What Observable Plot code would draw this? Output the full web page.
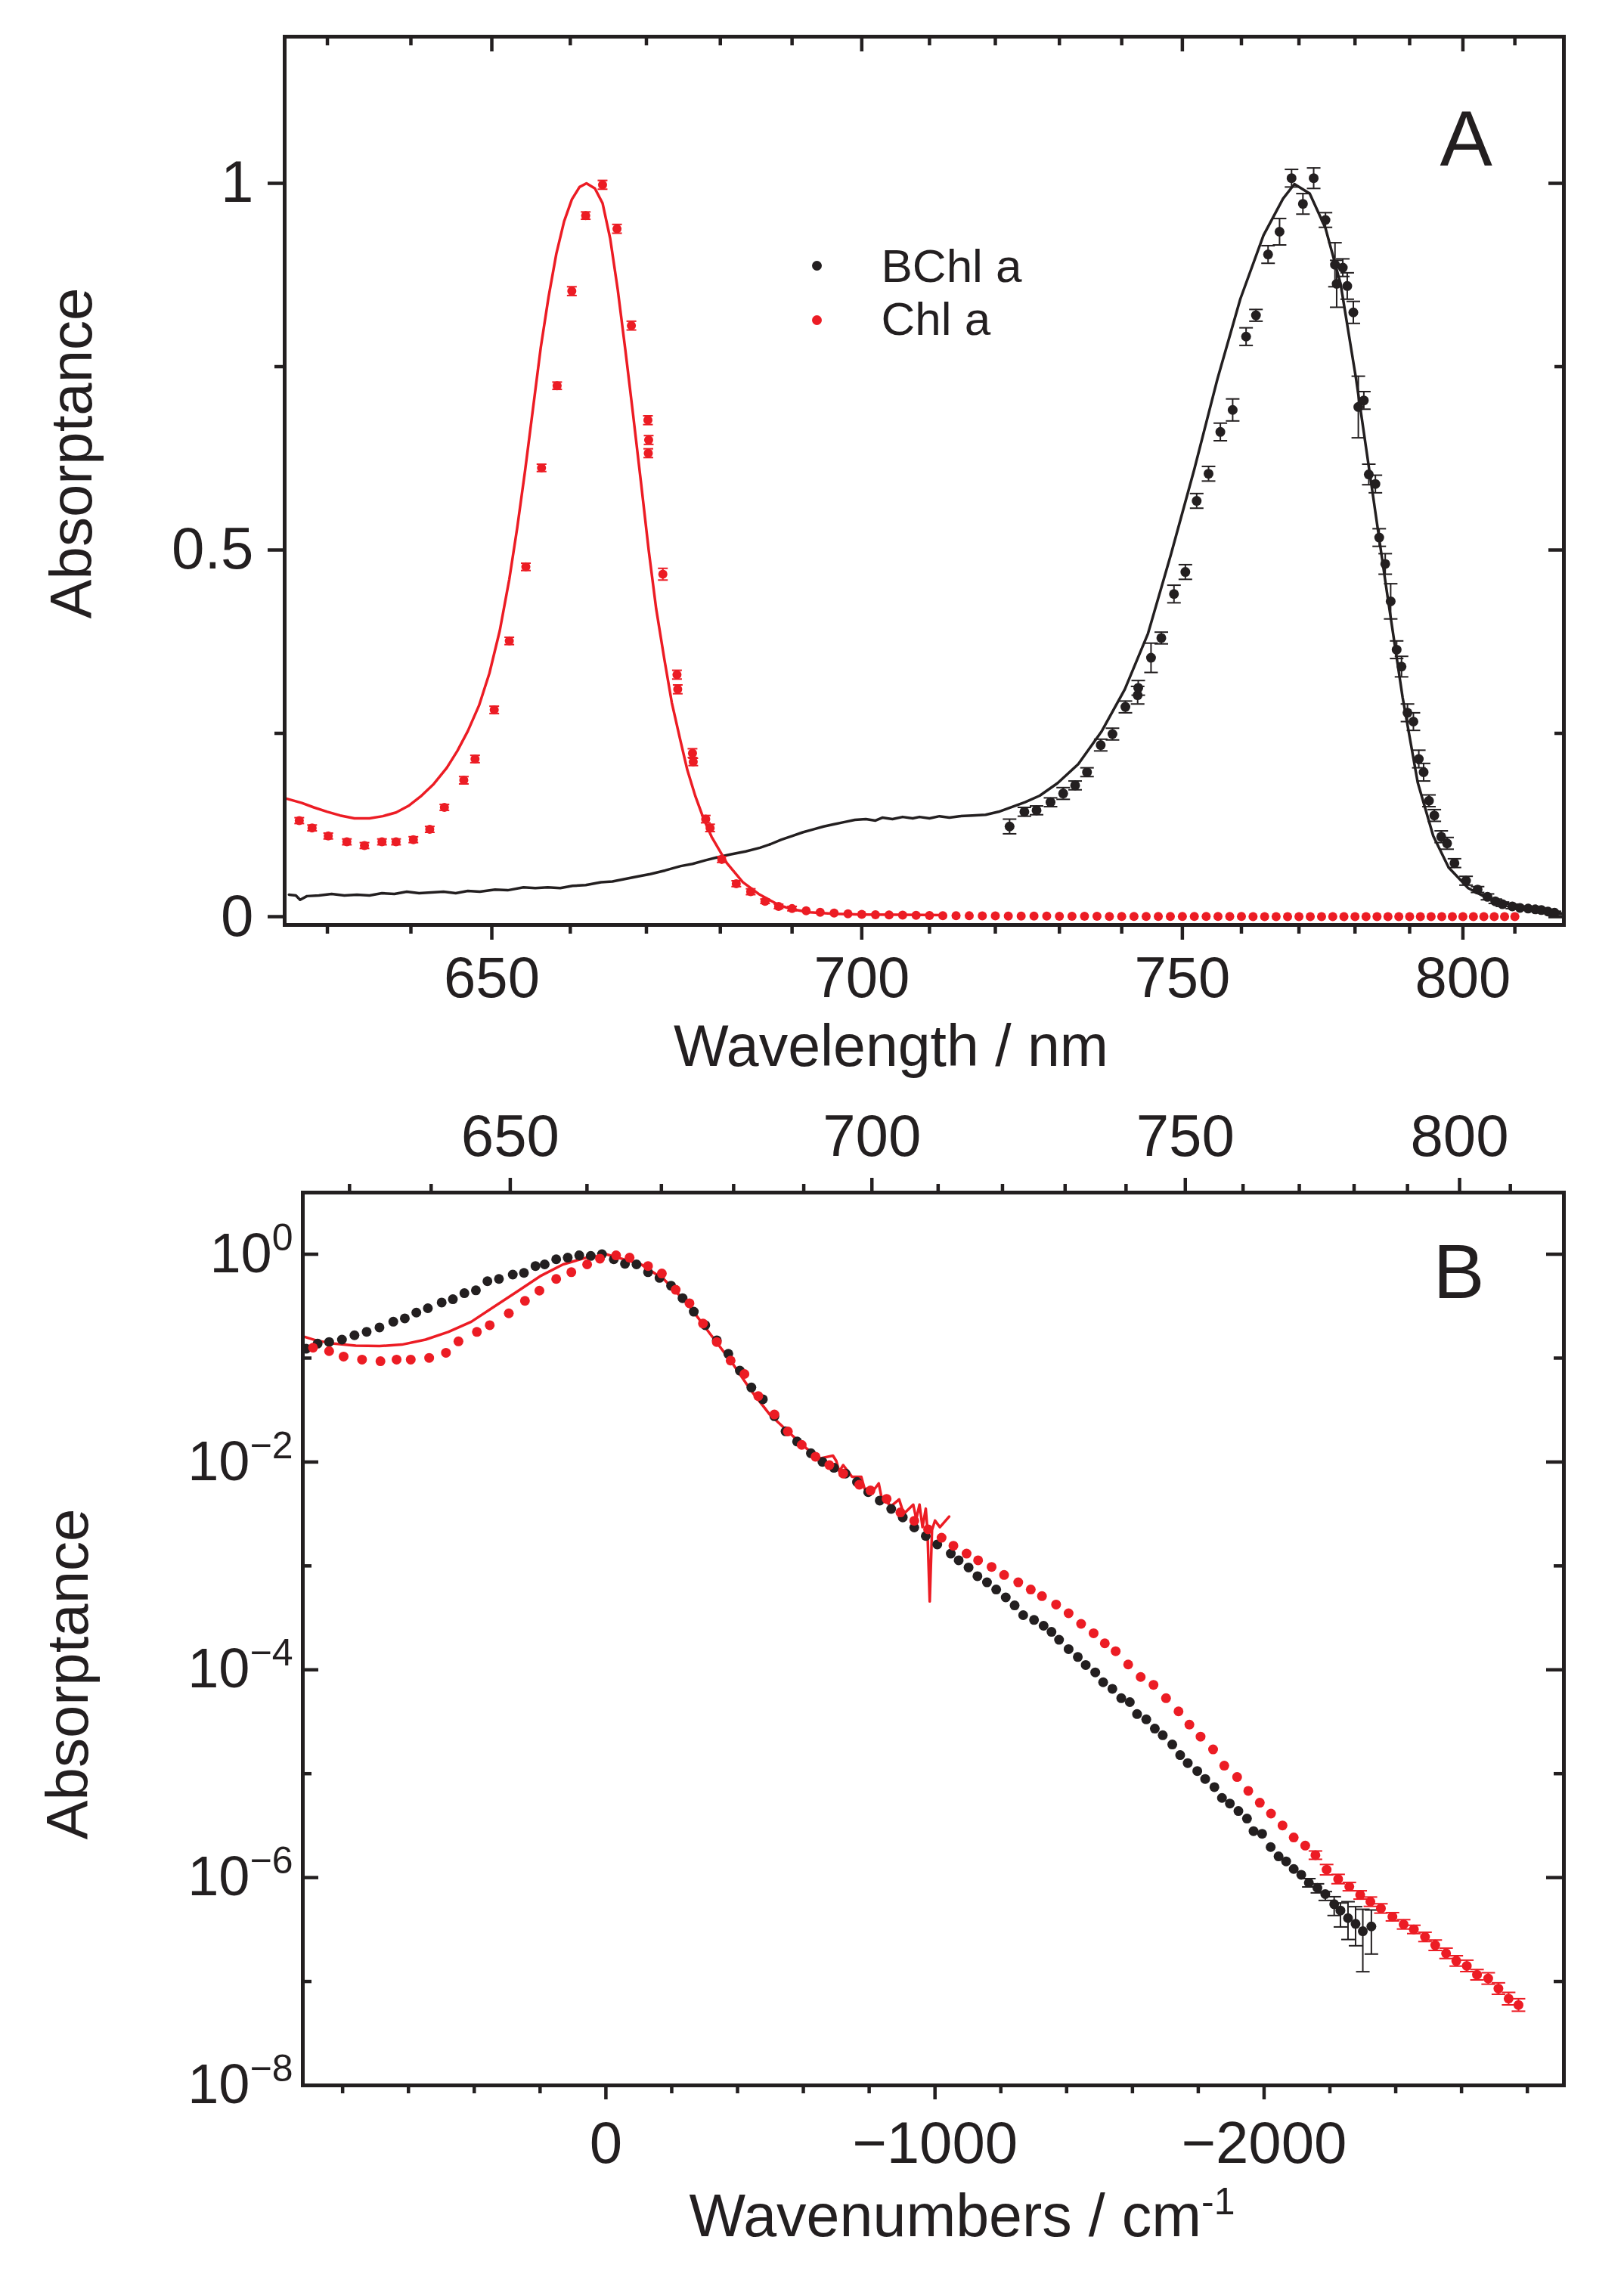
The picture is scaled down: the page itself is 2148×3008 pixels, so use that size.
<!DOCTYPE html>
<html>
<head>
<meta charset="utf-8">
<script src="https://cdn.jsdelivr.net/npm/d3@7"></script>
<script src="https://cdn.jsdelivr.net/npm/@observablehq/plot@0.6"></script>
<style>
  html, body { margin: 0; padding: 0; background: #fff; }
  #chart { width: 2148px; }
  #chart svg { display: block; }
</style>
</head>
<body>
<div id="chart"></div>
<script>
const FONT = "'Liberation Sans', Arial, Helvetica, sans-serif";
const RED = "#ec1c24";
const BLK = "#231f20";

// ---------------- Panel A data: [wavelength nm, absorptance (, error)] ----------------
const chlLineA = [
  [625.2,0.161],[627,0.155],[628.4,0.149],[630,0.143],[631.5,0.138],[633.2,0.134],[635,0.134],
  [636.6,0.137],[638.2,0.142],[639.7,0.151],[641.2,0.164],[642.8,0.181],[644.4,0.203],[645.7,0.226],
  [647,0.253],[648.4,0.288],[649.7,0.332],[651,0.39],[652.2,0.46],[653.2,0.53],[654.2,0.608],
  [655.2,0.692],[656.2,0.776],[657.2,0.845],[658.2,0.904],[659.2,0.948],[660.2,0.978],[661.2,0.995],
  [662.1,1.0],[663.2,0.993],[664.2,0.973],[665.2,0.925],[666.2,0.855],[667.2,0.773],[668.2,0.687],
  [669.3,0.59],[670.3,0.50],[671.3,0.42],[672.4,0.351],[673.4,0.292],[674.5,0.243],[675.5,0.2],
  [676.6,0.164],[677.7,0.134],[678.8,0.109],[680.9,0.073],[683.1,0.047],[685.3,0.031],[688.1,0.016],
  [690,0.010],[692.5,0.006],[696,0.004],[700,0.003],[706,0.0025],[712,0.002]
];
const bchlLineA = [
  [625.5,0.030],[626.3,0.029],[626.8,0.023],[627.6,0.028],[629,0.029],[630.5,0.031],[632,0.029],
  [633.5,0.030],[635,0.029],[636.5,0.032],[638,0.031],[639.5,0.034],[641,0.032],[642.5,0.033],
  [644,0.034],[645.5,0.032],[647,0.035],[648.5,0.034],[650.4,0.037],[652,0.036],[654,0.040],
  [655.5,0.039],[657.1,0.040],[658.7,0.039],[660.3,0.042],[662,0.043],[664,0.047],[665.5,0.048],
  [667,0.051],[668.9,0.055],[670.5,0.058],[672.5,0.063],[674.6,0.069],[676.2,0.072],[678,0.077],
  [679.6,0.081],[681.5,0.085],[683.5,0.089],[685.5,0.094],[687,0.099],[688.5,0.105],[690,0.110],
  [691.5,0.115],[693,0.119],[694.5,0.123],[696,0.126],[697.5,0.129],[699,0.132],[700.6,0.133],
  [702,0.131],[703,0.135],[704.5,0.133],[706,0.136],[707.5,0.134],[708.5,0.136],[710,0.134],
  [711.5,0.137],[713,0.135],[714.5,0.137],[716.5,0.138],[718.5,0.139],[720.5,0.143],[722.1,0.148],
  [724.6,0.156],[726.9,0.165],[729.7,0.182],[733.0,0.208],[736.7,0.252],[740.5,0.31],[744.3,0.386],
  [748.1,0.494],[752.0,0.61],[755.9,0.733],[759.8,0.842],[763.8,0.929],[767.2,0.979],[769.2,0.999],
  [771.9,0.986],[774.7,0.939],[777.4,0.863],[780.2,0.733],[783.0,0.588],[785.8,0.443],[788.7,0.299],
  [791.5,0.183],[794.4,0.110],[797.3,0.067],[801.0,0.039],[804.7,0.025],[807.5,0.019],[810.7,0.015],
  [813.5,0.011],[816.0,0.009],[818,0.006],[819.6,0.004]
];
const chlDotsA = [
  [626.7,0.131,0.004],[628.2,0.121,0.004],[630.1,0.110,0.004],[632.3,0.102,0.004],[634.4,0.097,0.004],
  [636.5,0.102,0.004],[638.2,0.102,0.004],[640.3,0.105,0.004],[642.3,0.119,0.004],[644.1,0.149,0.004],
  [646.5,0.186,0.005],[647.9,0.215,0.005],[650.3,0.282,0.005],[652.2,0.376,0.005],[654.3,0.477,0.005],
  [656.3,0.612,0.005],[658.3,0.724,0.005],[660.2,0.853,0.006],[662.0,0.956,0.005],[664.2,0.998,0.006],
  [666.1,0.938,0.006],[668.0,0.806,0.006],[670.2,0.677,0.006],[670.3,0.650,0.006],[670.25,0.632,0.006],
  [672.2,0.467,0.008],[674.1,0.330,0.006],[674.2,0.310,0.006],[676.2,0.223,0.006],[676.3,0.211,0.005],
  [678.0,0.133,0.005],[678.6,0.121,0.005],[680.2,0.078,0.004],[682.2,0.045,0.004],[684.2,0.034,0.004],
  [686.2,0.021,0.003],[688.1,0.014,0.003],[690.0,0.011,0.003],
  [692,0.008],[694,0.006],[696,0.005],[698,0.004],[700,0.0032],[702,0.0027],[704,0.0023],[706,0.0020],
  [708,0.0018],[710,0.0016],[712,0.0014],[714,0.0013],[716,0.0012],[718,0.0011],[720,0.0010],
  [722,0.0009],[724,0.0008],[726,0.0008],[728,0.0007],[730,0.0006],[732,0.0006],[734,0.0005],
  [736,0.0005],[738,0.0004],[740,0.0004],[742,0.0004],[744,0.0003],[746,0.0003],[748,0.0003],
  [750,0.0003],[752,0.0002],[754,0.0002],[756,0.0002],[758,0.0002],[760,0.0002],[762,0.0001],
  [764,0.0001],[766,0.0001],[768,0.0001],[770,0.0001],[772,0.0001],[774,0.0001],[776,0.0001],
  [778,0.0001],[780,0.0001],[782,0.0001],[784,0.0001],[786,0.0001],[788,0.0001],[790,0.0001],
  [792,0.0001],[794,0.0001],[796,0.0001],[798,0.0001],[800,0.0001],[802,0.0001],[804,0.0001],
  [806,0.0001],[808,0.0001],[810,0.0001]
];
const bchlDotsA = [
  [722.2,0.123,0.010],[724.5,0.143,0.006],[726.4,0.145,0.006],[728.6,0.156,0.006],[730.6,0.168,0.008],
  [732.5,0.179,0.006],[734.4,0.197,0.006],[736.6,0.234,0.008],[738.5,0.249,0.008],[740.6,0.286,0.008],
  [742.6,0.302,0.012],[742.7,0.312,0.010],[744.8,0.353,0.020],[746.5,0.380,0.008],[748.6,0.440,0.012],
  [750.5,0.470,0.010],[752.4,0.567,0.010],[754.4,0.604,0.010],[756.4,0.661,0.012],[758.5,0.691,0.015],
  [760.8,0.791,0.012],[762.5,0.820,0.008],[764.6,0.903,0.012],[766.6,0.934,0.018],[768.7,1.007,0.012],
  [770.7,0.972,0.014],[772.6,1.007,0.014],[774.7,0.950,0.010],[776.4,0.889,0.030],[776.7,0.863,0.032],
  [777.8,0.885,0.012],[778.6,0.860,0.018],[779.7,0.824,0.015],[780.6,0.695,0.042],[781.6,0.704,0.012],
  [782.5,0.603,0.014],[783.7,0.590,0.012],[784.4,0.517,0.012],[785.5,0.481,0.014],[786.5,0.430,0.024],
  [787.6,0.364,0.012],[788.5,0.341,0.014],[789.6,0.278,0.012],[790.7,0.266,0.012],[791.7,0.215,0.012],
  [792.6,0.197,0.012],[793.6,0.158,0.008],[794.6,0.138,0.008],[795.9,0.109,0.008],[797.0,0.100,0.008],
  [798.4,0.073,0.006],[800.6,0.049,0.006],[802.8,0.037,0.004],[804.7,0.027,0.004],[806.2,0.021,0.003],
  [807.6,0.017,0.003],[809.5,0.014,0.003],[811.0,0.012,0.002],[812.6,0.011,0.002],[814.0,0.010,0.002],
  [815.2,0.009,0.002],[816.5,0.007,0.002],[817.8,0.0054,0.002]
];

// ---------------- Panel B data: [relative wavenumber cm^-1, log10 absorptance (, error)] ----------------
const CHL_PEAK_CM = 15094; // wavenumber of the Chl a maximum (used for the top wavelength axis)
const chlLineB = [
  [921,-0.79],[880,-0.83],[827,-0.861],[760,-0.88],[688,-0.884],[620,-0.87],[548,-0.822],[479,-0.748],
  [409,-0.650],[339,-0.504],[269,-0.358],[200,-0.212],[130,-0.098],[60,-0.033],[18,-0.017],[0,0],
  [-37,-0.033],[-107,-0.098],[-177,-0.244],[-247,-0.472],[-316,-0.764],[-386,-1.056],[-442,-1.316],
  [-498,-1.543],[-553,-1.706],[-609,-1.868],[-651,-1.965],[-690,-1.939],[-700,-1.99],[-709,-2.092],
  [-721,-2.03],[-748,-2.143],[-776,-2.143],[-786,-2.257],[-814,-2.27],[-829,-2.206],[-838,-2.347],
  [-867,-2.423],[-891,-2.36],[-905,-2.5],[-934,-2.41],[-943,-2.55],[-953,-2.41],[-962,-2.627],
  [-972,-2.449],[-977,-2.653],[-984,-3.342],[-991,-2.653],[-1000,-2.564],[-1015,-2.627],[-1029,-2.576],
  [-1043,-2.525]
];
const chlDotsB = [
  [890,-0.900],[841,-0.933],[797,-0.985],[741,-1.014],[685,-1.030],[636,-1.014],[593,-1.014],[537,-0.998],
  [486,-0.949],[448,-0.839],[392,-0.748],[353,-0.683],[295,-0.569],[246,-0.449],[202,-0.351],[151,-0.238],
  [105,-0.173],[57,-0.098],[18,-0.043],[-31,-0.011],[-72,-0.033],[-128,-0.114],[-170,-0.186],[-212,-0.342],
  [-254,-0.472],[-295,-0.667],[-337,-0.845],[-379,-1.024],[-421,-1.153],[-463,-1.365],[-512,-1.543],
  [-553,-1.706],[-595,-1.835],[-637,-1.949],[-679,-2.030],[-721,-2.111],[-770,-2.219],[-804,-2.274],
  [-853,-2.355],[-895,-2.485],[-937,-2.566],[-979,-2.648],[-1020,-2.729],[-1056,-2.806],[-1096,-2.882],
  [-1131,-2.946],[-1172,-3.010],[-1210,-3.087],[-1253,-3.158],[-1291,-3.227],[-1325,-3.291],[-1368,-3.372],
  [-1406,-3.456],[-1444,-3.558],[-1482,-3.648],[-1516,-3.745],[-1549,-3.821],[-1587,-3.949],[-1625,-4.069],
  [-1664,-4.145],[-1702,-4.273],[-1740,-4.400],[-1773,-4.528],[-1807,-4.643],[-1845,-4.766],[-1879,-4.923],
  [-1918,-5.032],[-1952,-5.165],[-1987,-5.279],[-2021,-5.384],[-2056,-5.498],[-2090,-5.614],[-2125,-5.692],
  [-2156,-5.784,0.04],[-2190,-5.924,0.05],[-2225,-6.014,0.045],[-2259,-6.087,0.04],[-2292,-6.167,0.04],
  [-2323,-6.232,0.045],[-2355,-6.297,0.045],[-2390,-6.377,0.04],[-2424,-6.450,0.045],[-2455,-6.499,0.04],
  [-2489,-6.571,0.045],[-2520,-6.651,0.05],[-2553,-6.729,0.05],[-2584,-6.802,0.05],[-2616,-6.850,0.055],
  [-2647,-6.935,0.05],[-2681,-6.971,0.055],[-2712,-7.068,0.055],[-2743,-7.165,0.06],[-2773,-7.226,0.06]
];
const bchlDotsB = [
  [911,-0.910],[876,-0.861],[841,-0.845],[802,-0.822],[764,-0.780],[727,-0.747],[688,-0.705],[646,-0.650],
  [611,-0.618],[576,-0.562],[541,-0.520],[499,-0.465],[465,-0.433],[430,-0.375],[395,-0.348],[360,-0.260],
  [325,-0.238],[283,-0.196],[249,-0.180],[214,-0.114],[186,-0.098],[151,-0.049],[116,-0.033],[81,-0.011],
  [46,-0.017],[12,0.000],[-24,-0.049],[-58,-0.092],[-93,-0.098],[-128,-0.173],[-163,-0.228],[-198,-0.303],
  [-233,-0.423],[-267,-0.553],[-302,-0.683],[-337,-0.829],[-372,-0.959],[-407,-1.121],[-442,-1.283],
  [-477,-1.396],[-512,-1.559],[-546,-1.705],[-581,-1.803],[-623,-1.916],[-658,-1.998],[-693,-2.056],
  [-728,-2.111],[-763,-2.192],[-797,-2.290],[-832,-2.371],[-867,-2.452],[-902,-2.533],[-937,-2.630],
  [-972,-2.712],[-1007,-2.793],[-1048,-2.882],[-1072,-2.946],[-1102,-3.015],[-1129,-3.099],[-1158,-3.158],
  [-1186,-3.227],[-1215,-3.303],[-1242,-3.380],[-1268,-3.474],[-1301,-3.520],[-1330,-3.576],[-1354,-3.635],
  [-1377,-3.711],[-1406,-3.801],[-1434,-3.877],[-1458,-3.954],[-1487,-4.025],[-1511,-4.120],[-1539,-4.183],
  [-1566,-4.273],[-1592,-4.311],[-1614,-4.426],[-1642,-4.477],[-1668,-4.566],[-1692,-4.630],[-1721,-4.719],
  [-1745,-4.821],[-1768,-4.898],[-1797,-4.974],[-1821,-5.051],[-1849,-5.129],[-1872,-5.233],[-1896,-5.287],
  [-1922,-5.359],[-1948,-5.432],[-1968,-5.553],[-1994,-5.578],[-2020,-5.706],[-2044,-5.796],[-2067,-5.844],
  [-2090,-5.917],[-2113,-5.973],[-2136,-6.050,-6.09,-6.01],[-2162,-6.099,-6.147,-6.06],[-2186,-6.159,-6.22,-6.135],
  [-2213,-6.256,-6.365,-6.184],[-2232,-6.317,-6.475,-6.244],[-2255,-6.390,-6.596,-6.232],
  [-2278,-6.445,-6.656,-6.28],[-2300,-6.516,-6.906,-6.305],[-2326,-6.470,-6.736,-6.312]
];

// ---------------- Ticks ----------------
const aXMajorNm = [650, 700, 750, 800];
const aXMinorNm = [630, 640, 660, 670, 680, 690, 710, 720, 730, 740, 760, 770, 780, 790, 810];
const aYMajor = [0, 0.5, 1];
const aYMinor = [0.25, 0.75];
const bXMajor = [0, -1000, -2000];
const bXMinor = [800, 600, 400, 200, -200, -400, -600, -800, -1200, -1400, -1600, -1800, -2200, -2400, -2600, -2800];
const bTopMajorNm = [650, 700, 750, 800];
const bTopMinorNm = [630, 640, 660, 670, 680, 690, 710, 720, 730, 740, 760, 770, 780, 790, 810];
const bYMajor = [1, 1e-2, 1e-4, 1e-6, 1e-8];
const bYMinor = [1e-1, 1e-3, 1e-5, 1e-7];

// ---------------- helpers ----------------
const wn = nm => 1e7 / nm;                       // wavelength -> wavenumber
const rel = nm => 1e7 / nm - CHL_PEAK_CM;        // wavelength -> relative wavenumber
const capSym = { draw(ctx, size) { const r = Math.sqrt(size / Math.PI); ctx.moveTo(-r, 0); ctx.lineTo(r, 0); } };
const TW = 4.5;

// ================= Panel A =================
const A = { width: 2148, height: 1440, top: 48, right: 80, bottom: 217, left: 376 };
const aFH = A.height - A.top - A.bottom;
const aFW = A.width - A.left - A.right;
const errA = (data, color, capR) => {
  const d = data.filter(r => r.length > 2);
  return [
    Plot.ruleX(d, { x: r => wn(r[0]), y1: r => r[1] - r[2], y2: r => r[1] + r[2], stroke: color, strokeWidth: 2 }),
    Plot.dot(d, { x: r => wn(r[0]), y: r => r[1] + r[2], symbol: capSym, r: capR, stroke: color, strokeWidth: 2, fill: "none" }),
    Plot.dot(d, { x: r => wn(r[0]), y: r => r[1] - r[2], symbol: capSym, r: capR, stroke: color, strokeWidth: 2, fill: "none" })
  ];
};

const plotA = Plot.plot({
  width: A.width, height: A.height,
  marginTop: A.top, marginRight: A.right, marginBottom: A.bottom, marginLeft: A.left,
  style: { fontFamily: FONT, background: "#fff", color: BLK, overflow: "visible" },
  x: { type: "linear", domain: [16000, 12200] },
  y: { type: "linear", domain: [-0.0113, 1.2] },
  marks: [
    Plot.line(bchlLineA, { x: d => wn(d[0]), y: d => d[1], stroke: BLK, strokeWidth: 3.5 }),
    Plot.line(chlLineA, { x: d => wn(d[0]), y: d => d[1], stroke: RED, strokeWidth: 3.5 }),
    ...errA(bchlDotsA, BLK, 9),
    Plot.dot(bchlDotsA, { x: d => wn(d[0]), y: d => d[1], r: 6.5, fill: BLK }),
    ...errA(chlDotsA, RED, 6.5),
    Plot.dot(chlDotsA, { x: d => wn(d[0]), y: d => d[1], r: 6, fill: RED }),
    Plot.frame({ stroke: BLK, strokeWidth: 5 }),
    // bottom (outward) and top (inward) ticks
    Plot.ruleX(aXMajorNm, { x: d => wn(d), insetTop: aFH, insetBottom: -20, stroke: BLK, strokeWidth: TW }),
    Plot.ruleX(aXMinorNm, { x: d => wn(d), insetTop: aFH, insetBottom: -12, stroke: BLK, strokeWidth: TW }),
    Plot.ruleX(aXMajorNm, { x: d => wn(d), insetBottom: aFH - 20, stroke: BLK, strokeWidth: TW }),
    Plot.ruleX(aXMinorNm, { x: d => wn(d), insetBottom: aFH - 12, stroke: BLK, strokeWidth: TW }),
    // left (outward) and right (inward) ticks
    Plot.ruleY(aYMajor, { y: d => d, insetLeft: -22, insetRight: aFW, stroke: BLK, strokeWidth: TW }),
    Plot.ruleY(aYMinor, { y: d => d, insetLeft: -13, insetRight: aFW, stroke: BLK, strokeWidth: TW }),
    Plot.ruleY(aYMajor, { y: d => d, insetLeft: aFW - 20, stroke: BLK, strokeWidth: TW }),
    Plot.ruleY(aYMinor, { y: d => d, insetLeft: aFW - 12, stroke: BLK, strokeWidth: TW }),
    // tick labels
    Plot.axisX({ anchor: "bottom", ticks: aXMajorNm.map(wn), tickSize: 0, tickPadding: 42,
      tickFormat: d => String(Math.round(1e7 / d)), fontSize: 76, fontFamily: FONT, label: null }),
    Plot.axisY({ anchor: "left", ticks: aYMajor, tickSize: 0, tickPadding: 41,
      tickFormat: d => String(d), fontSize: 78, fontFamily: FONT, label: null }),
    // axis titles
    Plot.text(["Wavelength / nm"], { text: d => d, frameAnchor: "bottom", textAnchor: "middle", lineAnchor: "bottom",
      dx: -44, dy: 186, fontSize: 77, fontFamily: FONT, fill: BLK }),
    Plot.text(["Absorptance"], { text: d => d, frameAnchor: "left", rotate: -90, textAnchor: "middle", lineAnchor: "bottom",
      dx: 120 - A.left, dy: 599 - (A.top + aFH / 2), fontSize: 78, fontFamily: FONT, fill: BLK }),
    // panel letter
    Plot.text(["A"], { text: d => d, frameAnchor: "top-right", textAnchor: "start", lineAnchor: "bottom",
      dx: 1904 - (A.width - A.right), dy: 218 - A.top, fontSize: 104, fontFamily: FONT, fill: BLK }),
    // legend
    Plot.dot([0], { frameAnchor: "top-left", dx: 1080 - A.left, dy: 351 - A.top, r: 6.5, fill: BLK }),
    Plot.dot([0], { frameAnchor: "top-left", dx: 1080 - A.left, dy: 423 - A.top, r: 6.5, fill: RED }),
    Plot.text(["BChl a"], { text: d => d, frameAnchor: "top-left", textAnchor: "start", lineAnchor: "bottom",
      dx: 1165 - A.left, dy: 372 - A.top, fontSize: 62, fontFamily: FONT, fill: BLK }),
    Plot.text(["Chl a"], { text: d => d, frameAnchor: "top-left", textAnchor: "start", lineAnchor: "bottom",
      dx: 1165 - A.left, dy: 442 - A.top, fontSize: 62, fontFamily: FONT, fill: BLK })
  ]
});

// ================= Panel B =================
const B = { width: 2148, height: 1568, top: 137, right: 80, bottom: 250, left: 400 };
const bFH = B.height - B.top - B.bottom;
const bFW = B.width - B.left - B.right;
const p10 = e => Math.pow(10, e);
const chlErrB = chlDotsB.filter(r => r.length > 2);
const bchlErrB = bchlDotsB.filter(r => r.length > 2);
const minus = n => n < 0 ? "\u2212" + Math.abs(n) : String(n);
const X_TITLE_B = "Wavenumbers / cm";

const plotB = Plot.plot({
  width: B.width, height: B.height,
  marginTop: B.top, marginRight: B.right, marginBottom: B.bottom, marginLeft: B.left,
  style: { fontFamily: FONT, background: "#fff", color: BLK, overflow: "visible" },
  x: { type: "linear", domain: [921, -2911] },
  y: { type: "log", domain: [1e-8, 3.92] },
  marks: [
    Plot.line(chlLineB, { x: d => d[0], y: d => p10(d[1]), stroke: RED, strokeWidth: 3.5 }),
    Plot.ruleX(bchlErrB, { x: d => d[0], y1: d => p10(d[2]), y2: d => p10(d[3]), stroke: BLK, strokeWidth: 2 }),
    Plot.dot(bchlErrB, { x: d => d[0], y: d => p10(d[2]), symbol: capSym, r: 9, stroke: BLK, strokeWidth: 2, fill: "none" }),
    Plot.dot(bchlErrB, { x: d => d[0], y: d => p10(d[3]), symbol: capSym, r: 9, stroke: BLK, strokeWidth: 2, fill: "none" }),
    Plot.dot(bchlDotsB, { x: d => d[0], y: d => p10(d[1]), r: 6.5, fill: BLK }),
    Plot.ruleX(chlErrB, { x: d => d[0], y1: d => p10(d[1] - d[2]), y2: d => p10(d[1] + d[2]), stroke: RED, strokeWidth: 2 }),
    Plot.dot(chlErrB, { x: d => d[0], y: d => p10(d[1] - d[2]), symbol: capSym, r: 9, stroke: RED, strokeWidth: 2, fill: "none" }),
    Plot.dot(chlErrB, { x: d => d[0], y: d => p10(d[1] + d[2]), symbol: capSym, r: 9, stroke: RED, strokeWidth: 2, fill: "none" }),
    Plot.dot(chlDotsB, { x: d => d[0], y: d => p10(d[1]), r: 6.5, fill: RED }),
    Plot.frame({ stroke: BLK, strokeWidth: 5 }),
    // bottom ticks (outward)
    Plot.ruleX(bXMajor, { x: d => d, insetTop: bFH, insetBottom: -19, stroke: BLK, strokeWidth: TW }),
    Plot.ruleX(bXMinor, { x: d => d, insetTop: bFH, insetBottom: -11, stroke: BLK, strokeWidth: TW }),
    // top ticks (outward) in wavelength
    Plot.ruleX(bTopMajorNm, { x: d => rel(d), insetTop: -19, insetBottom: bFH, stroke: BLK, strokeWidth: TW }),
    Plot.ruleX(bTopMinorNm, { x: d => rel(d), insetTop: -11, insetBottom: bFH, stroke: BLK, strokeWidth: TW }),
    // left / right ticks (inward)
    Plot.ruleY(bYMajor, { y: d => d, insetRight: bFW - 21, stroke: BLK, strokeWidth: TW }),
    Plot.ruleY(bYMinor, { y: d => d, insetRight: bFW - 12, stroke: BLK, strokeWidth: TW }),
    Plot.ruleY(bYMajor, { y: d => d, insetLeft: bFW - 23, stroke: BLK, strokeWidth: TW }),
    Plot.ruleY(bYMinor, { y: d => d, insetLeft: bFW - 13, stroke: BLK, strokeWidth: TW }),
    // tick labels
    Plot.axisX({ anchor: "bottom", ticks: bXMajor, tickSize: 0, tickPadding: 47,
      tickFormat: d => minus(d), fontSize: 78, fontFamily: FONT, label: null }),
    Plot.axisX({ anchor: "top", ticks: bTopMajorNm.map(rel), tickSize: 0, tickPadding: 49,
      tickFormat: d => String(Math.round(1e7 / (d + CHL_PEAK_CM))), fontSize: 78, fontFamily: FONT, label: null }),
    Plot.axisY({ anchor: "left", ticks: bYMajor, tickSize: 0, tickPadding: 13,
      tickFormat: d => "10^" + minus(Math.round(Math.log10(d))), fontSize: 74, fontFamily: FONT, label: null }),
    // axis titles
    Plot.text([X_TITLE_B], { text: d => d, frameAnchor: "bottom-left", textAnchor: "start", lineAnchor: "bottom",
      dx: 911 - B.left, dy: 199, fontSize: 79, fontFamily: FONT, fill: BLK }),
    Plot.text(["Absorptance"], { text: d => d, frameAnchor: "left", rotate: -90, textAnchor: "middle", lineAnchor: "bottom",
      dx: 115 - B.left, dy: (2214 - 1440) - (B.top + bFH / 2), fontSize: 78, fontFamily: FONT, fill: BLK }),
    Plot.text(["B"], { text: d => d, frameAnchor: "top-right", textAnchor: "start", lineAnchor: "bottom",
      dx: 1895 - (B.width - B.right), dy: (1716 - 1440) - B.top, fontSize: 102, fontFamily: FONT, fill: BLK })
  ]
});

// superscripts for the logarithmic tick labels and the unit
d3.select(plotB).selectAll("text").each(function () {
  const t = this.textContent;
  if (t.startsWith("10^")) {
    const exp = t.slice(3);
    this.textContent = "10";
    d3.select(this).append("tspan").attr("dy", "-29px").attr("font-size", "50px").text(exp);
  } else if (t === X_TITLE_B) {
    d3.select(this).append("tspan").attr("dy", "-29px").attr("font-size", "50px").text("-1");
  }
});

const chart = document.getElementById("chart");
chart.appendChild(plotA);
chart.appendChild(plotB);
</script>
</body>
</html>
